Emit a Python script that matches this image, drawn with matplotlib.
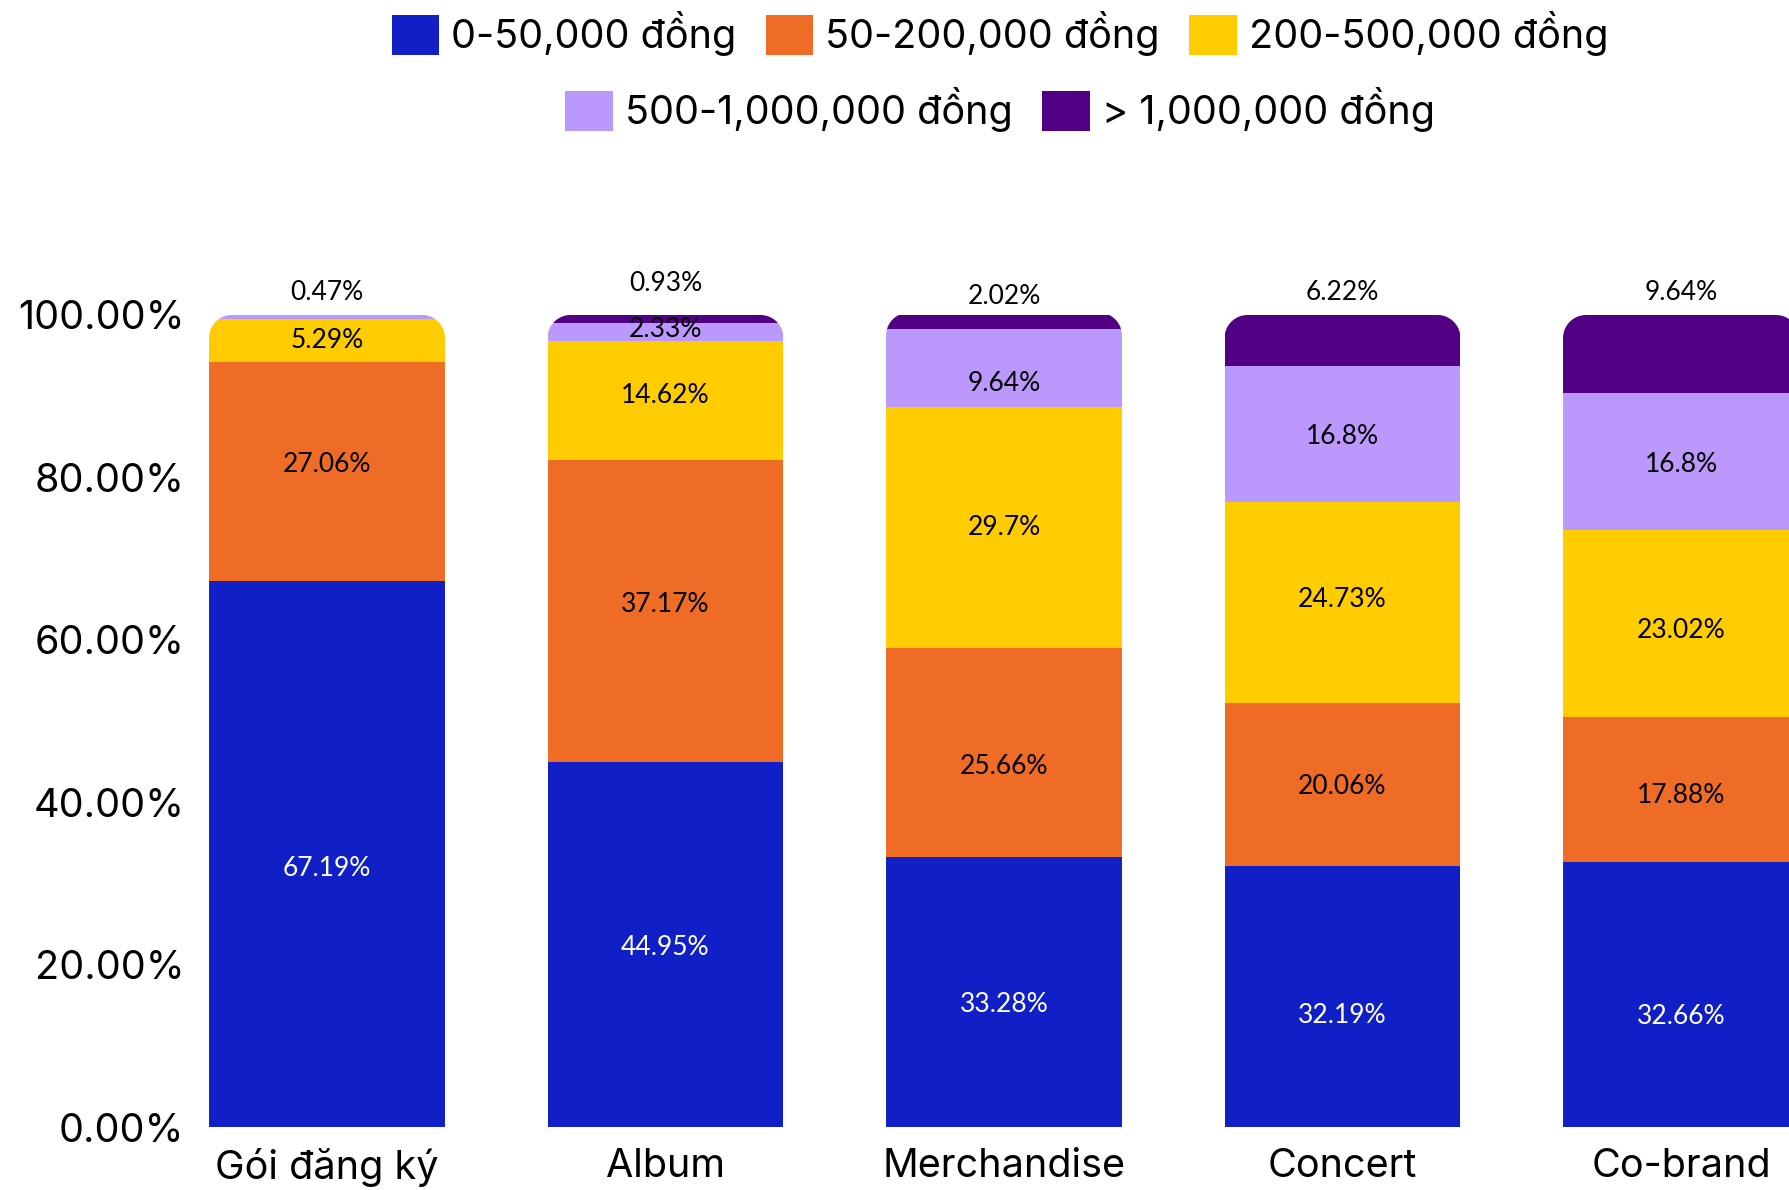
import numpy as np
import matplotlib
matplotlib.use("Agg")
import matplotlib.pyplot as plt
from matplotlib.patches import Patch, PathPatch
from matplotlib.path import Path

categories = ["Gói đăng ký", "Album", "Merchandise", "Concert", "Co-brand"]
series_names = ["0-50,000 đồng", "50-200,000 đồng", "200-500,000 đồng",
                "500-1,000,000 đồng", "> 1,000,000 đồng"]
s_0_50k = [67.19, 44.95, 33.28, 32.19, 32.66]
s_50_200k = [27.06, 37.17, 25.66, 20.06, 17.88]
s_200_500k = [5.29, 14.62, 29.7, 24.73, 23.02]
s_500k_1m = [0.47, 2.33, 9.64, 16.8, 16.8]
s_over_1m = [0.0, 0.93, 2.02, 6.22, 9.64]
yticks = [0, 20, 40, 60, 80, 100]

colors = ["#1120C6", "#EF6C26", "#FFCC00", "#BB99FC", "#520084"]
label_colors = ["white", "black", "black", "black", "black"]
# small vertical nudges of the in-bar labels (data units), per series then category
label_nudge = [
    [-1.7, -0.4, -1.6, -2.4, -2.7],
    [0.85, 0.85, -1.7, -0.3, -0.8],
    [0.0, 0.7, 0.0, 0.4, -0.9],
    [0.0, 0.3, -1.9, -0.3, -0.4],
    [0.0, 0.0, 0.0, 0.0, 0.0],
]
top_label_offset = [2.8, 3.9, 2.25, 2.8, 2.8]

AX_FONT = ["Inter", "DejaVu Sans"]
VAL_FONT = ["Lato", "DejaVu Sans"]
plt.rcParams['font.family'] = AX_FONT

W, H = 1790, 1190
fig = plt.figure(figsize=(W / 100, H / 100), dpi=100)
ax_left_px, ax_bottom_px, ax_top_px = 190, 1127, 315
ax = fig.add_axes([ax_left_px / W, (H - ax_bottom_px) / H, 1 - ax_left_px / W,
                   (ax_bottom_px - ax_top_px) / H])
px_per_x = 338.5
x0_px = 327
ax.set_xlim((ax_left_px - x0_px) / px_per_x, (W - x0_px) / px_per_x)
ax.set_ylim(0, 100)

series = [s_0_50k, s_50_200k, s_200_500k, s_500k_1m, s_over_1m]
x = np.arange(len(categories))
bw = 0.697
bottoms = np.zeros(len(categories))
bar_containers = []
for vals, col in zip(series, colors):
    bc = ax.bar(x, vals, bw, bottom=bottoms, color=col, linewidth=0)
    bar_containers.append(bc)
    bottoms = bottoms + np.array(vals)
totals = bottoms

# rounded-top clip paths
r_px = 23
rx = r_px / px_per_x
ry = r_px / ((ax_bottom_px - ax_top_px) / 100)
for i in range(len(categories)):
    xl, xr = x[i] - bw / 2, x[i] + bw / 2
    top = totals[i]
    t = np.linspace(0, np.pi / 2, 20)
    pts = [(xl, -5), (xr, -5)]
    for a in t:
        pts.append((xr - rx + rx * np.cos(a), top - ry + ry * np.sin(a)))
    for a in t:
        pts.append((xl + rx - rx * np.sin(a), top - ry + ry * np.cos(a)))
    pts.append((xl, -5))
    clip = PathPatch(Path(pts), transform=ax.transData, facecolor="none", edgecolor="none")
    ax.add_patch(clip)
    clip.set_visible(False)
    for bc in bar_containers:
        bc[i].set_clip_path(clip)

# labels
for i in range(len(categories)):
    vals = [s[i] for s in series]
    nonzero = [k for k, v in enumerate(vals) if v > 0]
    topk = nonzero[-1]
    base = 0
    for k, v in enumerate(vals):
        if v > 0:
            if k == topk:
                ax.text(x[i], 100 + top_label_offset[i], f"{v:g}%",
                        ha="center", va="center", fontsize=19, color="black",
                        family=VAL_FONT)
            else:
                ax.text(x[i], base + v / 2 + label_nudge[k][i], f"{v:g}%",
                        ha="center", va="center", fontsize=19, color=label_colors[k],
                        family=VAL_FONT)
        base += v

for s in ax.spines.values():
    s.set_visible(False)
ax.set_yticks(yticks)
ax.set_yticklabels([f"{v:.2f}%" for v in yticks])
ax.set_xticks(x)
ax.set_xticklabels(categories)
ax.tick_params(axis="both", length=0, labelsize=28.5)
ax.tick_params(axis="y", pad=4)
ax.tick_params(axis="x", pad=15)

handles = [Patch(facecolor=c, edgecolor="none") for c in colors]
leg_kw = dict(loc="center", frameon=False, fontsize=28.5, handlelength=1.2,
              handleheight=1.2, handletextpad=0.3, columnspacing=0.75, borderpad=0)
leg1 = fig.legend(handles[:3], series_names[:3], ncol=3,
                  bbox_to_anchor=(1000 / W, 1 - 34 / H), **leg_kw)
leg2 = fig.legend(handles[3:], series_names[3:], ncol=2,
                  bbox_to_anchor=(1000 / W, 1 - 110 / H), **leg_kw)

fig.savefig("out.png", dpi=100)
